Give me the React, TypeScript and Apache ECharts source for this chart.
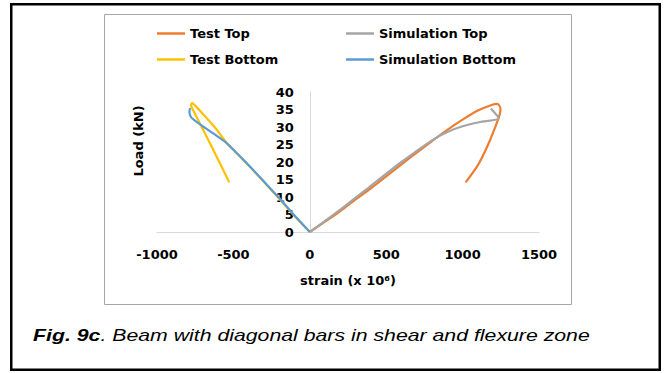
import React, { useEffect, useRef } from "react";
import * as echarts from "echarts";

const xTicks = [-1000, -500, 0, 500, 1000, 1500];
const yTicks = [0, 5, 10, 15, 20, 25, 30, 35, 40];

const seriesNames = ["Test Top", "Simulation Top", "Test Bottom", "Simulation Bottom"];

const testTopX = [0, 100, 200, 300, 400, 500, 600, 700, 800, 900, 1000, 1100, 1190, 1226, 1248, 1242, 1226, 1165, 1100, 1020];
const testTopY = [0, 3, 6, 9.3, 12.5, 15.9, 19.3, 22.7, 26, 29.2, 32.1, 34.7, 36.3, 36.6, 35.2, 33.4, 31.4, 24.8, 19.1, 14.2];

const simTopX = [0, 200, 400, 600, 800, 900, 1000, 1100, 1237, 1185];
const simTopY = [0, 6.4, 13.2, 20, 26.2, 28.6, 30.2, 31.3, 32.5, 35.3];

const testBotX = [0, -100, -200, -300, -400, -500, -549, -614, -701, -750, -770, -777, -766, -647, -527];
const testBotY = [0, 4.6, 9.5, 14.3, 19, 23.5, 25.7, 29.5, 33.8, 36.1, 36.8, 36.2, 35, 24.8, 14.2];

const simBotX = [0, -100, -200, -300, -400, -500, -550, -620, -680, -723, -760, -777, -788, -784];
const simBotY = [0, 4.7, 9.7, 14.4, 19.1, 23.5, 25.6, 27.8, 29.6, 30.9, 32.1, 32.8, 34.2, 35.4];

const colors = ["#ED7D31", "#A5A5A5", "#FFC000", "#5B9BD5"];

const pairs = (xs: number[], ys: number[]) => xs.map((x, i) => [x, ys[i]]);

const FONT = "DejaVu Sans";

export default function App() {
  const ref = useRef<HTMLDivElement>(null);
  useEffect(() => {
    if (!ref.current) return;
    const chart = echarts.init(ref.current, undefined, { renderer: "svg" });
    const labelStyle = { color: "#000", fontFamily: FONT, fontWeight: "bold" as const, fontSize: 13 };
    const data = [
      pairs(testTopX, testTopY),
      pairs(simTopX, simTopY),
      pairs(testBotX, testBotY),
      pairs(simBotX, simBotY),
    ];
    const gridLeft = 157;
    const gridRight = 128;
    const plotWidth = 667 - gridLeft - gridRight;
    const xMin = xTicks[0];
    const xMax = xTicks[xTicks.length - 1];
    const zeroOffset = -((0 - xMin) / (xMax - xMin)) * plotWidth;
    const legendCommon = {
      top: 26,
      padding: 0,
      orient: "vertical",
      itemGap: 11,
      itemWidth: 28,
      itemHeight: 2.5,
      icon: "rect",
      textStyle: { ...labelStyle, lineHeight: 15 },
    };
    chart.setOption({
      animation: false,
      backgroundColor: "#fff",
      grid: { left: gridLeft, right: gridRight, top: 92, bottom: 141, containLabel: false },
      xAxis: {
        type: "value",
        min: xMin,
        max: xMax,
        interval: 500,
        axisLine: { show: true, lineStyle: { color: "#d9d9d9", width: 1 } },
        axisTick: { show: false },
        splitLine: { show: false },
        axisLabel: { ...labelStyle, margin: 16, formatter: (v: number) => String(v) },
        name: "strain (x 10⁶)",
        nameLocation: "middle",
        nameGap: 42,
        nameTextStyle: { ...labelStyle },
      },
      yAxis: {
        type: "value",
        min: yTicks[0],
        max: yTicks[yTicks.length - 1],
        interval: 5,
        offset: zeroOffset,
        axisLine: { show: true, onZero: false, lineStyle: { color: "#d9d9d9", width: 1 } },
        axisTick: { show: false },
        splitLine: { show: false },
        axisLabel: { ...labelStyle, margin: 16, formatter: (v: number) => String(v) },
      },
      legend: [
        { ...legendCommon, left: 157, data: [seriesNames[0], seriesNames[2]] },
        { ...legendCommon, left: 346, data: [seriesNames[1], seriesNames[3]] },
      ],
      series: seriesNames.map((name, i) => ({
        name,
        type: "line",
        data: data[i],
        symbol: "none",
        showSymbol: false,
        smooth: i % 2 === 0 ? 0.3 : 0.2,
        color: colors[i],
        lineStyle: { color: colors[i], width: 2.2 },
      })),
      graphic: [
        {
          type: "rect",
          shape: { x: 11.25, y: 4.25, width: 648.5, height: 365.5 },
          style: { fill: "none", stroke: "#000", lineWidth: 2.5 },
          silent: true,
        },
        {
          type: "rect",
          shape: { x: 104.5, y: 14.5, width: 467, height: 290 },
          style: { fill: "none", stroke: "#a6a6a6", lineWidth: 1 },
          silent: true,
        },
        {
          type: "text",
          x: 138,
          y: 141,
          rotation: Math.PI / 2,
          style: {
            text: "Load (kN)",
            align: "center",
            verticalAlign: "middle",
            fill: "#000",
            font: `bold 13px "${FONT}"`,
          },
        },
        {
          type: "text",
          x: 33,
          y: 335,
          scaleX: 1.33,
          style: {
            text: "{b|Fig. 9c}. Beam with diagonal bars in shear and flexure zone",
            align: "left",
            verticalAlign: "middle",
            fill: "#000",
            font: 'italic 16px "Liberation Sans"',
            rich: {
              b: { fill: "#000", font: 'italic bold 16px "Liberation Sans"' },
            },
          },
        },
      ],
    });
    return () => chart.dispose();
  }, []);
  return (
    <div
      ref={ref}
      style={{ position: "fixed", left: 0, top: 0, width: 667, height: 373, background: "#fff" }}
    />
  );
}
